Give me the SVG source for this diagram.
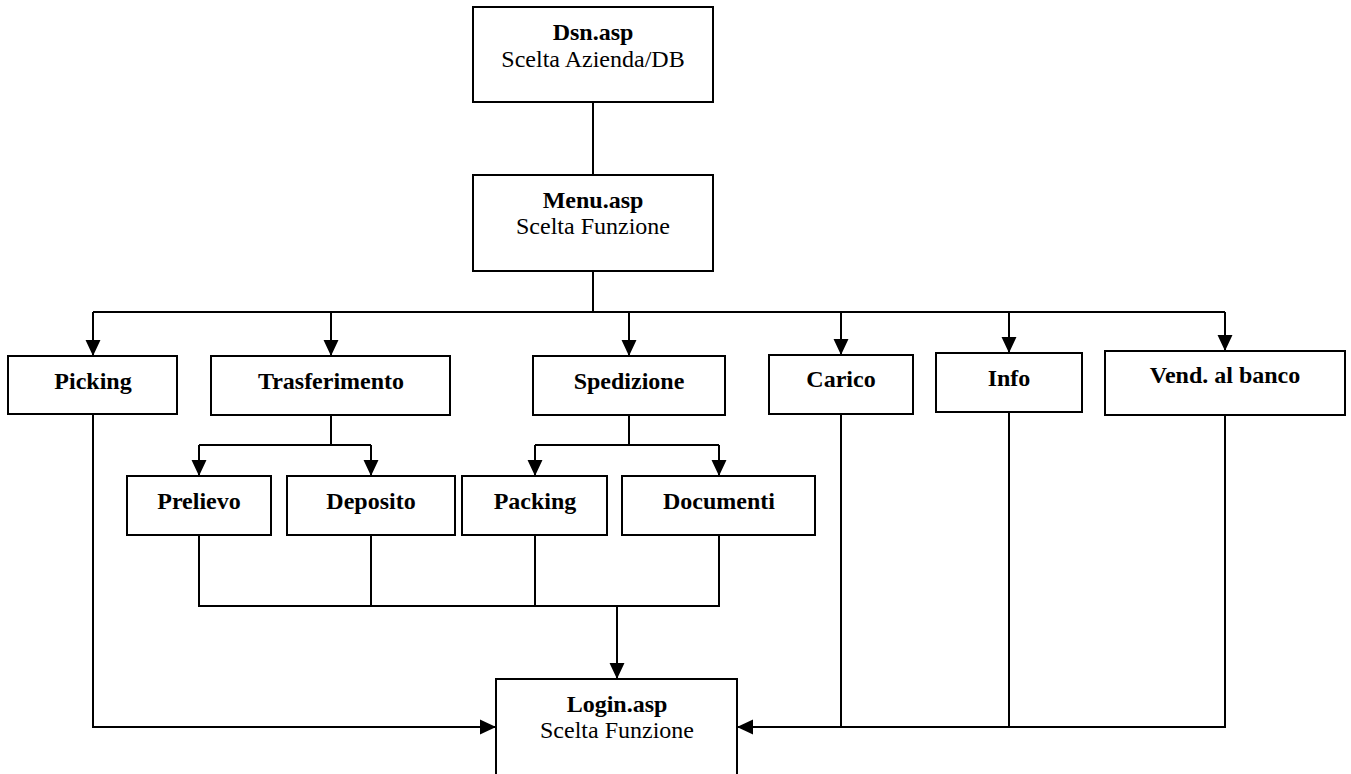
<svg xmlns="http://www.w3.org/2000/svg" width="1351" height="774" viewBox="0 0 1351 774">
<defs>
<style>
.box{fill:#fff;stroke:#000;stroke-width:2}
.ln{fill:none;stroke:#000;stroke-width:2}
.t{font-family:"Liberation Serif","Times New Roman",serif;font-size:24px;text-anchor:middle;fill:#000}
.b{font-weight:bold}
</style>
<marker id="ah" markerUnits="userSpaceOnUse" markerWidth="16" markerHeight="16" viewBox="0 0 15 14" refX="15" refY="7" orient="auto">
<path d="M0,0 L15,7 L0,14 Z" fill="#000"/>
</marker>
</defs>
<rect width="1351" height="774" fill="#fff"/>
<g id="connectors">
<path class="ln" d="M593,102 V175"/>
<path class="ln" d="M593,271 V312 M93,312 H1225"/>
<path class="ln" d="M93,312 V356" marker-end="url(#ah)"/>
<path class="ln" d="M331,312 V356" marker-end="url(#ah)"/>
<path class="ln" d="M629,312 V356" marker-end="url(#ah)"/>
<path class="ln" d="M841,312 V355" marker-end="url(#ah)"/>
<path class="ln" d="M1009,312 V353" marker-end="url(#ah)"/>
<path class="ln" d="M1225,312 V351" marker-end="url(#ah)"/>
<path class="ln" d="M331,415 V445 M199,445 H371"/>
<path class="ln" d="M199,445 V476" marker-end="url(#ah)"/>
<path class="ln" d="M371,445 V476" marker-end="url(#ah)"/>
<path class="ln" d="M629,415 V445 M535,445 H719"/>
<path class="ln" d="M535,445 V476" marker-end="url(#ah)"/>
<path class="ln" d="M719,445 V476" marker-end="url(#ah)"/>
<path class="ln" d="M199,535 V606 H719 V535 M371,535 V606 M535,535 V606"/>
<path class="ln" d="M617,606 V679" marker-end="url(#ah)"/>
<path class="ln" d="M93,414 V727 H496" marker-end="url(#ah)"/>
<path class="ln" d="M841,414 V727 M1009,412 V727 M1225,415 V727 H737" marker-end="url(#ah)"/>
</g>
<g id="dsn">
<rect class="box" x="473" y="7" width="240" height="95"/>
<text class="t b" x="593" y="40">Dsn.asp</text>
<text class="t" x="593" y="67">Scelta Azienda/DB</text>
</g>
<g id="menu">
<rect class="box" x="473" y="175" width="240" height="96"/>
<text class="t b" x="593" y="208">Menu.asp</text>
<text class="t" x="593" y="234">Scelta Funzione</text>
</g>
<g id="picking">
<rect class="box" x="8" y="356" width="169" height="58"/>
<text class="t b" x="93" y="389">Picking</text>
</g>
<g id="trasferimento">
<rect class="box" x="211" y="356" width="239" height="59"/>
<text class="t b" x="331" y="389">Trasferimento</text>
</g>
<g id="spedizione">
<rect class="box" x="533" y="356" width="192" height="59"/>
<text class="t b" x="629" y="389">Spedizione</text>
</g>
<g id="carico">
<rect class="box" x="769" y="355" width="144" height="59"/>
<text class="t b" x="841" y="387">Carico</text>
</g>
<g id="info">
<rect class="box" x="936" y="353" width="146" height="59"/>
<text class="t b" x="1009" y="386">Info</text>
</g>
<g id="vend">
<rect class="box" x="1105" y="351" width="240" height="64"/>
<text class="t b" x="1225" y="383">Vend. al banco</text>
</g>
<g id="prelievo">
<rect class="box" x="127" y="476" width="144" height="59"/>
<text class="t b" x="199" y="509">Prelievo</text>
</g>
<g id="deposito">
<rect class="box" x="287" y="476" width="168" height="59"/>
<text class="t b" x="371" y="509">Deposito</text>
</g>
<g id="packing">
<rect class="box" x="462" y="476" width="145" height="59"/>
<text class="t b" x="535" y="509">Packing</text>
</g>
<g id="documenti">
<rect class="box" x="622" y="476" width="193" height="59"/>
<text class="t b" x="719" y="509">Documenti</text>
</g>
<g id="login">
<rect class="box" x="496" y="679" width="241" height="120"/>
<text class="t b" x="617" y="712">Login.asp</text>
<text class="t" x="617" y="738">Scelta Funzione</text>
</g>
</svg>
